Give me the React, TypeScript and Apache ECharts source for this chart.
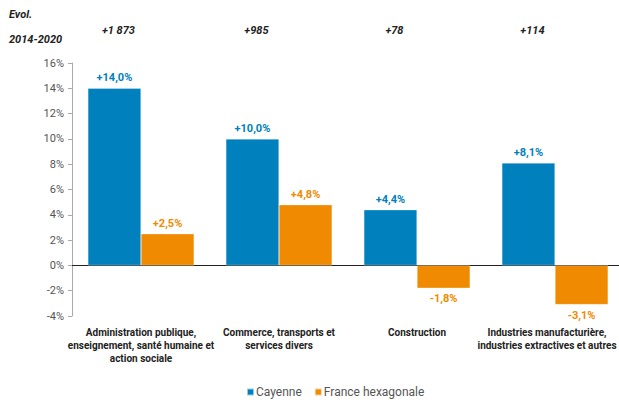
import React, { useEffect, useRef } from "react";
import * as echarts from "echarts";

const categories = [
  "Administration publique,\nenseignement, santé humaine et\naction sociale",
  "Commerce, transports et\nservices divers",
  "Construction",
  "Industries manufacturière,\nindustries extractives et autres",
];
const cayenne = [14.0, 10.0, 4.4, 8.1];
const france = [2.5, 4.8, -1.8, -3.1];
const evolCounts = ["+1 873", "+985", "+78", "+114"];
const seriesNames = ["Cayenne", "France hexagonale"];

const BLUE = "#0080bc";
const ORANGE = "#f08a00";
const FONT = "Roboto";

const fmt = (v: number) => (v > 0 ? "+" : "") + v.toFixed(1).replace(".", ",") + "%";

export default function App() {
  const ref = useRef<HTMLDivElement>(null);
  useEffect(() => {
    if (!ref.current) return;
    const chart = echarts.init(ref.current, undefined, { renderer: "svg" });
    const GAP = 0.23;
    chart.setOption({
      animation: false,
      textStyle: { fontFamily: FONT },
      grid: { left: 72, right: 6, top: 63, bottom: 84, outerBoundsMode: "none", containLabel: false },
      legend: {
        bottom: -3,
        left: 241,
        itemWidth: 7,
        itemHeight: 7,
        itemGap: 12,
        icon: "rect",
        textStyle: { fontSize: 12, color: "#555", fontFamily: FONT, padding: [0, 0, 0, -3] },
        data: seriesNames,
      },
      xAxis: {
        type: "category",
        data: categories.map((c, i) =>
          i === categories.length - 1
            ? { value: c, textStyle: { padding: [0, 16, 0, 0] } }
            : c
        ),
        axisLine: { onZero: true, lineStyle: { color: "#222", width: 1 } },
        axisTick: { show: false },
        axisLabel: {
          interval: 0,
          fontSize: 10,
          fontWeight: "bold",
          color: "#222",
          lineHeight: 13,
          margin: 10,
          fontFamily: FONT,
        },
        position: "bottom",
      },
      yAxis: {
        type: "value",
        min: -4,
        max: 16,
        interval: 2,
        splitLine: { show: false },
        axisLine: { show: true, lineStyle: { color: "#aaa" } },
        axisTick: { show: true, inside: false, length: 4, lineStyle: { color: "#aaa" } },
        axisLabel: {
          formatter: (v: number) => v + "%",
          fontSize: 11,
          color: "#555",
          margin: 8,
          fontFamily: FONT,
        },
      },
      series: [
        {
          name: seriesNames[0],
          type: "bar",
          data: cayenne,
          barGap: "0%",
          barCategoryGap: GAP * 100 + "%",
          itemStyle: { color: BLUE, borderColor: "rgba(255,255,255,0.6)", borderWidth: 0.5 },
          label: {
            show: true,
            position: "top",
            distance: 5,
            formatter: (p: any) => fmt(p.value),
            color: BLUE,
            fontSize: 11,
            fontWeight: "bold",
            fontFamily: FONT,
          },
        },
        {
          name: seriesNames[1],
          type: "bar",
          data: france.map((v) => ({
            value: v,
            label: { position: v < 0 ? "bottom" : "top" },
          })),
          itemStyle: { color: ORANGE, borderColor: "rgba(255,255,255,0.6)", borderWidth: 0.5 },
          label: {
            show: true,
            distance: 5,
            formatter: (p: any) => fmt(p.value),
            color: ORANGE,
            fontSize: 11,
            fontWeight: "bold",
            fontFamily: FONT,
          },
        },
      ],
    });
    const x0 = chart.convertToPixel({ xAxisIndex: 0 }, 0) as number;
    const x1 = chart.convertToPixel({ xAxisIndex: 0 }, 1) as number;
    const catW = x1 - x0;
    const barW = (catW * (1 - GAP)) / 2;
    chart.setOption({
      graphic: [
        {
          type: "text",
          left: 9,
          top: 9,
          style: { text: "Evol.", font: `italic bold 11px ${FONT}`, fill: "#222" },
        },
        {
          type: "text",
          left: 9,
          top: 34,
          style: { text: "2014-2020", font: `italic bold 11px ${FONT}`, fill: "#222" },
        },
        ...evolCounts.map((t, i) => {
          const px = chart.convertToPixel({ xAxisIndex: 0 }, i) as number;
          const cx = px - barW / 2 + 4;
          return {
            type: "text",
            x: cx,
            y: 30,
            style: {
              text: t,
              font: `italic bold 11px ${FONT}`,
              fill: "#222",
              align: "center",
              verticalAlign: "middle",
            },
          };
        }),
      ],
    });
    return () => chart.dispose();
  }, []);
  return (
    <div
      ref={ref}
      style={{ position: "fixed", left: 0, top: 0, width: 630, height: 400, background: "#fff" }}
    />
  );
}
